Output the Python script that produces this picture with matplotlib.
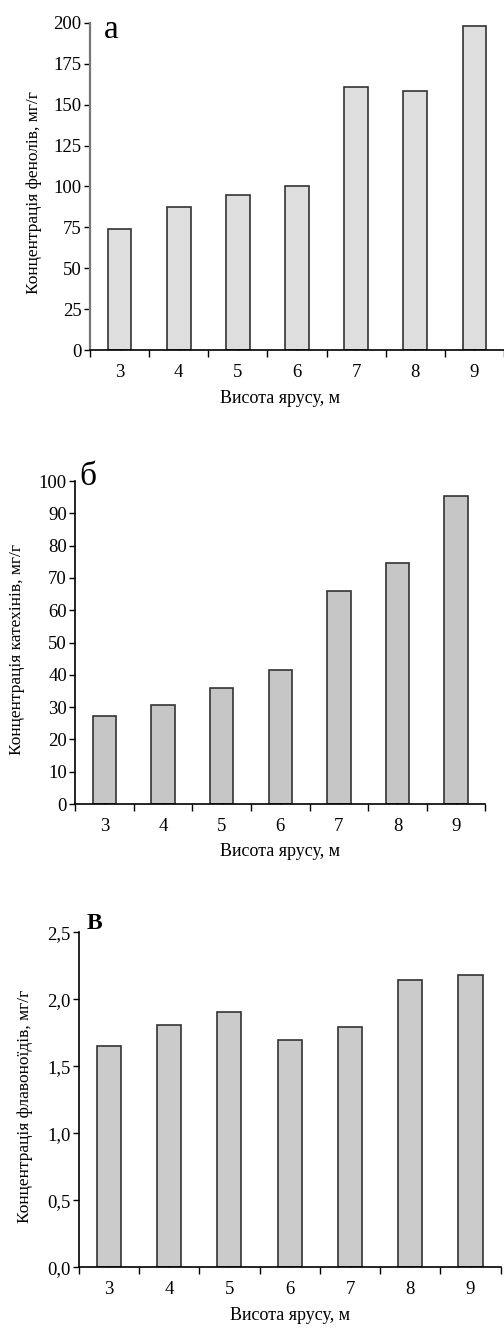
import matplotlib
matplotlib.use('Agg')
import matplotlib.pyplot as plt
import numpy as np
from matplotlib.ticker import FixedLocator, FuncFormatter

plt.rcParams['font.family'] = ['Liberation Serif', 'DejaVu Serif']

heights = [3, 4, 5, 6, 7, 8, 9]
phenols = [74, 87.5, 95, 100, 161, 158, 198]
catechins = [27.3, 30.7, 36, 41.5, 66, 74.5, 95.5]
flavonoids = [1.65, 1.81, 1.905, 1.70, 1.795, 2.145, 2.18]

xlabel = u'Висота ярусу, м'
ylabels = [u'Концентрація фенолів, мг/г',
           u'Концентрація катехінів, мг/г',
           u'Концентрація флавоноїдів, мг/г']
letters = [u'а', u'б', u'В']

fig = plt.figure(figsize=(5.04, 13.31), dpi=100)

# axes positions in figure fraction (left, bottom, width, height)
boxes = [[0.1786, 0.7368, 0.8214, 0.2462],
         [0.1494, 0.3959, 0.8135, 0.2427],
         [0.1561, 0.0479, 0.8373, 0.2516]]

series = [phenols, catechins, flavonoids]
ylims = [200, 100, 2.5]
ysteps = [25, 10, 0.5]
fills = ['#dedede', '#c6c6c6', '#cbcbcb']
ylab_x = [-0.116, -0.123, -0.108]
letter_pos = [(0.034, 0.978, 24, 'normal'), (0.011, 1.012, 24, 'normal'), (0.019, 1.025, 17, 'bold')]

for i in range(3):
    ax = fig.add_axes(boxes[i])
    ax.bar(heights, series[i], width=0.4, color=fills[i], edgecolor='#333333', linewidth=1.2, zorder=2)
    ax.set_xlim(2.5, 9.5)
    ax.set_ylim(0, ylims[i])

    for s in ['top', 'right']:
        ax.spines[s].set_visible(False)
    ax.spines['bottom'].set_linewidth(1.2)
    ax.spines['left'].set_linewidth(1.2)
    if i == 0:
        ax.spines['left'].set_color('#777777')
        ax.spines['left'].set_linewidth(1.6)
    ax.spines['bottom'].set_zorder(3)

    yt = np.arange(0, ylims[i] + ysteps[i] / 2, ysteps[i])
    ax.yaxis.set_major_locator(FixedLocator(yt))
    if i == 2:
        ax.yaxis.set_major_formatter(FuncFormatter(lambda v, p: ('%.1f' % v).replace('.', ',')))
    else:
        ax.yaxis.set_major_formatter(FuncFormatter(lambda v, p: '%d' % v))
    ax.tick_params(axis='y', direction='out', length=4, width=1, labelsize=13.5, pad=2)

    # labels at bar centres with small inner ticks, outer ticks at category borders
    ax.xaxis.set_major_locator(FixedLocator(heights))
    ax.xaxis.set_minor_locator(FixedLocator(np.arange(2.5, 9.6, 1.0)))
    ax.tick_params(axis='x', which='major', direction='in', length=3, width=1, labelsize=13.5, pad=10)
    ax.tick_params(axis='x', which='minor', direction='out', length=5, width=1)

    ax.set_xlabel(xlabel, fontsize=13)
    ax.xaxis.set_label_coords(0.46 if i == 0 else 0.5, -0.12)
    ax.set_ylabel(ylabels[i], fontsize=12.5)
    ax.yaxis.set_label_coords(ylab_x[i], 0.48)

    lx, ly, lsize, lw = letter_pos[i]
    ax.text(lx, ly, letters[i], transform=ax.transAxes, fontsize=lsize, fontweight=lw,
            ha='left', va='center')

plt.savefig('out.png', dpi=100)
